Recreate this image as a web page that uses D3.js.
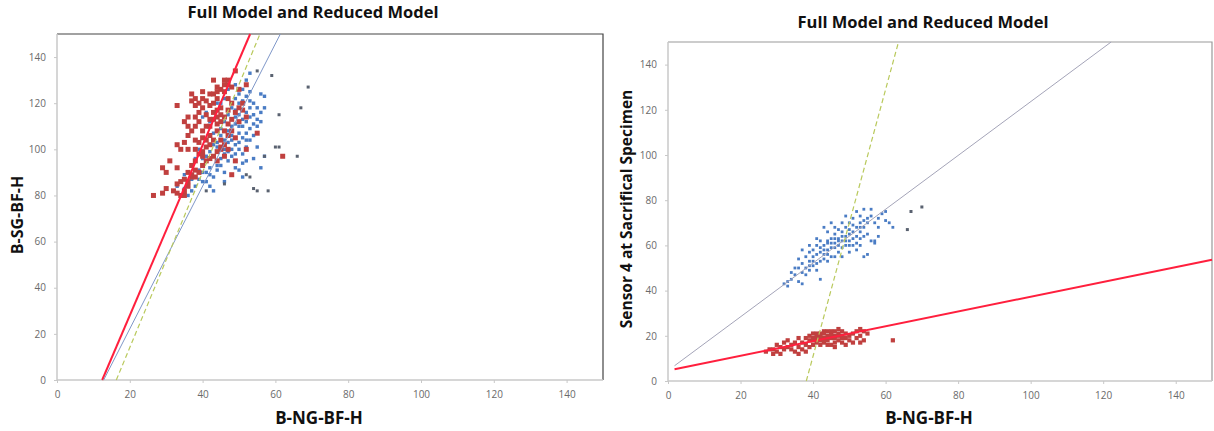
<!DOCTYPE html>
<html><head><meta charset="utf-8">
<script src="https://cdn.jsdelivr.net/npm/d3@7"></script>
<style>body{margin:0;background:#fff}svg{display:block}text{font-family:"Open Sans",sans-serif}</style>
</head><body><svg id="c" width="1214" height="431"></svg>
<script>
// ---------- data ----------
const chartTitles = ["Full Model and Reduced Model", "Full Model and Reduced Model"];
const xAxisTitles = ["B-NG-BF-H", "B-NG-BF-H"];
const yAxisTitles = ["B-SG-BF-H", "Sensor 4 at Sacrifical Specimen"];
const tickValues = [0, 20, 40, 60, 80, 100, 120, 140];
const axisDomain = [0, 150];

const leftBlue = [[33,84],[34,86],[35,83],[36,80],[37,87],[38,88],[39,91],[40,93],[41,90],[42,92],[41,86],[42,84],[43,88],[44,93],[45,96],[46,98],[47,99],[48,100],[49,102],[50,103],[51,105],[52,107],[53,109],[52,112],[51,113],[50,115],[49,117],[50,120],[51,121],[52,123],[53,125],[52,130],[53,133],[54,120],[55,118],[56,116],[55,113],[54,111],[53,104],[52,101],[51,98],[49,98],[48,104],[47,103],[46,104],[47,108],[48,110],[49,111],[50,110],[52,116],[53,118],[54,115],[56,112],[57,123],[57,118],[56,124],[55,101],[54,96],[52,95],[51,94],[49,92],[46,90],[44,91],[43,97],[42,99],[41,97],[40,96],[44,101],[45,109],[46,112],[47,115],[48,118],[49,122],[50,124],[48,127],[47,126],[46,122],[45,120],[44,120],[42,112],[41,116],[40,114],[43,107],[44,103],[50,91],[51,88],[56,92],[57,97],[43,82],[46,86],[40,86],[38,84],[37,82],[36,85],[39,100],[38,96],[50,107],[51,110],[53,114],[49,114],[48,106],[46,100],[45,93],[42,89],[39,87],[35,89],[47,95],[48,97],[50,100],[52,104],[54,106],[55,110],[53,121],[51,126],[49,128],[45,106],[43,102],[40,90]];
const leftRed = [[26.5,80],[29,81],[30,83],[32,82],[33,81],[34,80],[35,80],[33,85],[34,86],[35,87],[36,84],[30,90],[29,92],[31,95],[33,92],[36,90],[37,89],[37,93],[38,95],[38,91],[33,102],[34,100],[35,103],[36,106],[37,108],[38,110],[38,104],[39,103],[39,98],[40,97],[40,99],[41,101],[42,102],[40,105],[39,112],[40,108],[41,110],[42,113],[43,113],[44,114],[44,117],[45,118],[43,116],[42,119],[41,121],[40,122],[38,122],[37,121],[37,124],[38,119],[39,116],[40,118],[42,124],[43,124],[44,122],[44,125],[45,126],[46,125],[46,128],[47,128],[48,127],[47,122],[48,120],[47,117],[46,114],[45,112],[44,108],[45,104],[46,102],[47,106],[46,108],[47,111],[48,113],[49,116],[50,118],[51,120],[51,117],[52,114],[50,112],[48,108],[49,105],[45,100],[44,99],[43,97],[44,95],[46,97],[47,100],[33,119],[35,112],[36,110],[36,114],[36,100],[38,100],[40,93],[41,95],[42,96],[45,101],[48,89],[49,95],[52,100],[55,107],[50,126],[49,134],[52,128],[46,130],[44,127],[43,130],[47,130],[62,97],[35,82],[36,86],[37,88],[38,88],[39,90],[41,115],[42,110],[43,120],[39,120],[38,114],[40,125],[44,111],[45,115],[43,104],[42,106],[41,104]];
const leftGray = [[69,127],[67,118],[61,115],[59,132],[60,101],[61,101],[66,97],[57,97],[54,83],[55,82],[58,82],[52,89],[53,88],[55,134],[46,85],[41,82]];

const rightBlue = [[32,43],[33,44],[34,45],[35,47],[36,44],[37,43],[35,50],[36,54],[37,52],[38,50],[38,55],[39,49],[39,53],[40,51],[40,55],[41,49],[41,52],[42,53],[42,57],[43,56],[43,60],[44,58],[44,62],[45,59],[45,63],[46,61],[46,65],[47,60],[47,63],[48,62],[48,66],[49,60],[49,64],[49,68],[50,62],[50,65],[50,70],[51,63],[51,66],[51,72],[52,64],[52,68],[52,75],[53,66],[53,70],[53,73],[54,68],[54,71],[54,76],[55,70],[55,65],[56,73],[56,76],[57,70],[57,62],[58,72],[58,68],[59,74],[60,71],[60,75],[61,70],[62,68],[55,56],[54,55],[53,60],[48,55],[47,57],[46,55],[45,55],[42,45],[40,58],[39,60],[42,62],[44,66],[46,68],[45,70],[43,68],[41,63],[48,70],[52,58],[56,62],[57,61],[37,58],[38,47],[44,53],[50,57],[51,60],[47,67],[49,73],[53,63],[55,72],[58,64],[36,50],[37,48],[39,57],[40,53],[41,56],[42,59],[43,58],[44,61],[45,61],[46,59],[47,62],[48,64],[49,62],[50,67],[51,69],[52,61],[53,68],[54,64],[50,60],[48,59],[46,63],[44,56],[43,54],[41,60],[39,51],[34,48],[33,42]];
const rightRed = [[27,13],[28,14],[29,12],[30,13],[31,12],[30,16],[32,14],[32,17],[33,15],[33,18],[34,14],[34,16],[35,13],[35,17],[36,15],[36,19],[37,14],[37,17],[38,16],[38,19],[39,15],[39,18],[39,20],[40,16],[40,19],[40,21],[41,17],[41,19],[41,21],[42,16],[42,18],[42,20],[43,17],[43,19],[43,21],[44,18],[44,20],[44,22],[45,16],[45,19],[45,21],[46,17],[46,20],[46,22],[47,18],[47,21],[47,23],[48,17],[48,20],[48,22],[49,19],[49,21],[50,18],[50,20],[51,17],[51,21],[52,19],[52,22],[53,20],[53,23],[54,18],[54,22],[62,18],[31,15],[36,12],[38,13],[44,16],[49,16],[46,15],[53,17],[55,21],[29,14],[40,18],[41,20],[42,19],[43,18],[44,19],[45,20],[46,19],[47,20],[42,21],[43,22],[45,22],[48,19]];
const rightGray = [[70,77],[67,75],[66,67]];

// fitted lines: y = slope * x + intercept
const leftFitSlopes = [3.69, 3.09, 3.80];        // red, blue, green dashed
const leftFitIntercepts = [-45.8, -39.6, -61.9];
const rightFitSlopes = [0.327, 1.19, 5.9];
const rightFitIntercepts = [4.6, 4.6, -225];

// ---------- drawing ----------
const svg = d3.select("#c");
const panels = [
  {x0:57, x1:603, y0:380, y1:34, xStart:0, title:[313,18], xl:[319,424], yl:[17,215],
   blue:leftBlue, red:leftRed, gray:leftGray, slopes:leftFitSlopes, ints:leftFitIntercepts,
   frame:"#444", thin:"#7f97c8", redSize:5, blueSize:3.4},
  {x0:668, x1:1212, y0:381, y1:42, xStart:1.8, title:[923,28], xl:[929,424], yl:[627,209],
   blue:rightBlue, red:rightRed, gray:rightGray, slopes:rightFitSlopes, ints:rightFitIntercepts,
   frame:"#999", thin:"#a4a4b8", redSize:4.2, blueSize:2.8}
];
const lineColors = ["#ff1f3d", null, "#b9c95c"];

panels.forEach((p, i) => {
  const x = d3.scaleLinear().domain(axisDomain).range([p.x0, p.x1]);
  const y = d3.scaleLinear().domain(axisDomain).range([p.y0, p.y1]);
  const g = svg.append("g");

  g.append("path").attr("d", `M${p.x0},${p.y1}H${p.x1}V${p.y0}`)
    .attr("fill","none").attr("stroke",p.frame).attr("stroke-width",1.2);

  const xa = g.append("g").attr("transform",`translate(0,${p.y0})`)
    .call(d3.axisBottom(x).tickValues(tickValues).tickSize(3).tickPadding(8));
  const ya = g.append("g").attr("transform",`translate(${p.x0},0)`)
    .call(d3.axisLeft(y).tickValues(tickValues).tickSize(3).tickPadding(8));
  [xa, ya].forEach(a => {
    a.select(".domain").attr("stroke","#c8c8c8").attr("stroke-width",1.5);
    a.selectAll(".tick line").attr("stroke","#c8c8c8");
    a.selectAll(".tick text").attr("fill","#6a6a6a").style("font-size","10px")
      .style("font-family","'Open Sans',sans-serif");
  });
  xa.select(".domain").attr("d", `M${p.x0},0H${p.x1}`);
  ya.select(".domain").attr("d", `M0,${p.y0}V${p.y1}`);

  g.append("g").selectAll("rect").data(p.blue).join("rect")
    .attr("x", d => x(d[0]) - p.blueSize/2).attr("y", d => y(d[1]) - p.blueSize/2)
    .attr("width", p.blueSize).attr("height", p.blueSize).attr("fill","#4a7cc4");
  g.append("g").selectAll("rect").data(p.red).join("rect")
    .attr("x", d => x(d[0]) - p.redSize/2).attr("y", d => y(d[1]) - p.redSize/2)
    .attr("width", p.redSize).attr("height", p.redSize).attr("fill","#c0403f");
  g.append("g").selectAll("rect").data(p.gray).join("rect")
    .attr("x", d => x(d[0]) - 1.5).attr("y", d => y(d[1]) - 1.5)
    .attr("width", 3).attr("height", 3).attr("fill","#5a6270");

  p.slopes.forEach((m, k) => {
    const b = p.ints[k];
    const xa1 = Math.max(p.xStart, (0 - b) / m);
    const xa2 = Math.min(150, (150 - b) / m);
    const seg = [[xa1, m*xa1 + b], [xa2, m*xa2 + b]];
    const path = g.append("path").attr("d", d3.line().x(d => x(d[0])).y(d => y(d[1]))(seg))
      .attr("fill","none");
    if (k === 0) path.attr("stroke", lineColors[0]).attr("stroke-width", 2);
    else if (k === 1) path.attr("stroke", p.thin).attr("stroke-width", 1);
    else path.attr("stroke", lineColors[2]).attr("stroke-width", 1.2).attr("stroke-dasharray","5,3");
  });

  g.append("text").attr("x",p.title[0]).attr("y",p.title[1]).attr("text-anchor","middle")
    .style("font-size","16.5px").style("font-weight","700").attr("fill","#111").text(chartTitles[i]);
  g.append("text").attr("x",p.xl[0]).attr("y",p.xl[1]).attr("text-anchor","middle")
    .style("font-size","17px").style("font-weight","700").attr("fill","#111").text(xAxisTitles[i]);
  g.append("text").attr("transform",`translate(${p.yl[0]},${p.yl[1]}) rotate(-90)`)
    .attr("text-anchor","middle").attr("dy","0.35em")
    .style("font-size", i === 0 ? "16px" : "15.5px").style("font-weight","700").attr("fill","#111")
    .text(yAxisTitles[i]);
});
</script></body></html>
